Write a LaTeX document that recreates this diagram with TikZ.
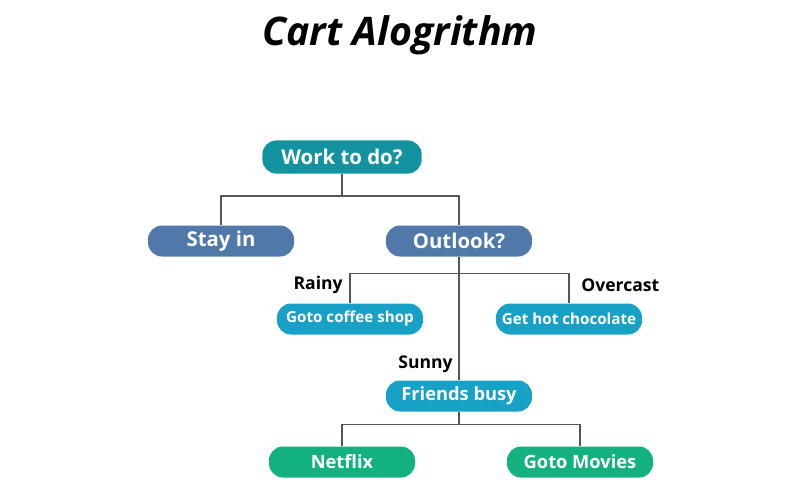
\documentclass[tikz,border=0pt]{standalone}
\usepackage{fontspec}
\setmainfont{Open Sans}
\usepackage{tikz}
\usetikzlibrary{positioning,calc}
\definecolor{ctteal}{HTML}{13939F}
\definecolor{ctsteel}{HTML}{5079AA}
\definecolor{ctsky}{HTML}{18A1C6}
\definecolor{ctgreen}{HTML}{12B17F}
\definecolor{ctline}{HTML}{555555}
\tikzset{
  ctpill/.style={rectangle, rounded corners=10pt, text=white, inner sep=0pt,
    minimum width=3.65cm, minimum height=0.775cm, font=\bfseries\fontsize{14.5}{17}\selectfont},
  ctsmall/.style={ctpill, font=\bfseries\fontsize{10.8}{13}\selectfont},
  ctlink/.style={draw=ctline, line width=1pt},
  ctlabel/.style={font=\bfseries\fontsize{12.5}{15}\selectfont, inner sep=0pt},
}

\begin{document}
\begin{tikzpicture}[x=0.025cm,y=-0.025cm]
  \useasboundingbox (0,0) rectangle (800,500);
  \node[font=\bfseries\itshape\fontsize{28}{32}\selectfont] (title) at (400,35) {Cart Alogrithm};

  \node[ctpill, fill=ctteal, minimum width=3.98cm, minimum height=0.83cm] (work) at (342,157) {Work to do?};
  \node[ctpill, fill=ctsteel] (stay) at (221,241) {Stay in};
  \node[ctpill, fill=ctsteel] (outlook) at (459,241) {Outlook?};

  \node[ctsmall, fill=ctsky] (coffee) at (350,319) {Goto coffee shop};
  \node[ctsmall, fill=ctsky] (choc) at (569,319) {Get hot chocolate};
  \node[ctpill, fill=ctsky, font=\bfseries\fontsize{13}{16}\selectfont] (friends) at (459,396) {Friends busy};

  \node[ctpill, fill=ctgreen, font=\bfseries\fontsize{13}{16}\selectfont] (netflix) at (342,462) {Netflix};
  \node[ctpill, fill=ctgreen, font=\bfseries\fontsize{13}{16}\selectfont] (movies) at (580,462) {Goto Movies};

  \draw[ctlink] (work.south) -- ++(0,22) -| (stay.north);
  \draw[ctlink] (work.south) -- ++(0,22) -| (outlook.north);

  \draw[ctlink] (outlook.south) -- (friends.north);
  \draw[ctlink] (outlook.south) -- ++(0,17) -| (coffee.north);
  \draw[ctlink] (outlook.south) -- ++(0,17) -| (choc.north);

  \draw[ctlink] (friends.south) -- ++(0,13) -| (netflix.north);
  \draw[ctlink] (friends.south) -- ++(0,13) -| (movies.north);

  \node[ctlabel, anchor=east] (rainy) at (343,285) {Rainy};
  \node[ctlabel, anchor=west] (overcast) at (581,285) {Overcast};
  \node[ctlabel, anchor=east] (sunny) at (453,364) {Sunny};
\end{tikzpicture}
\end{document}
